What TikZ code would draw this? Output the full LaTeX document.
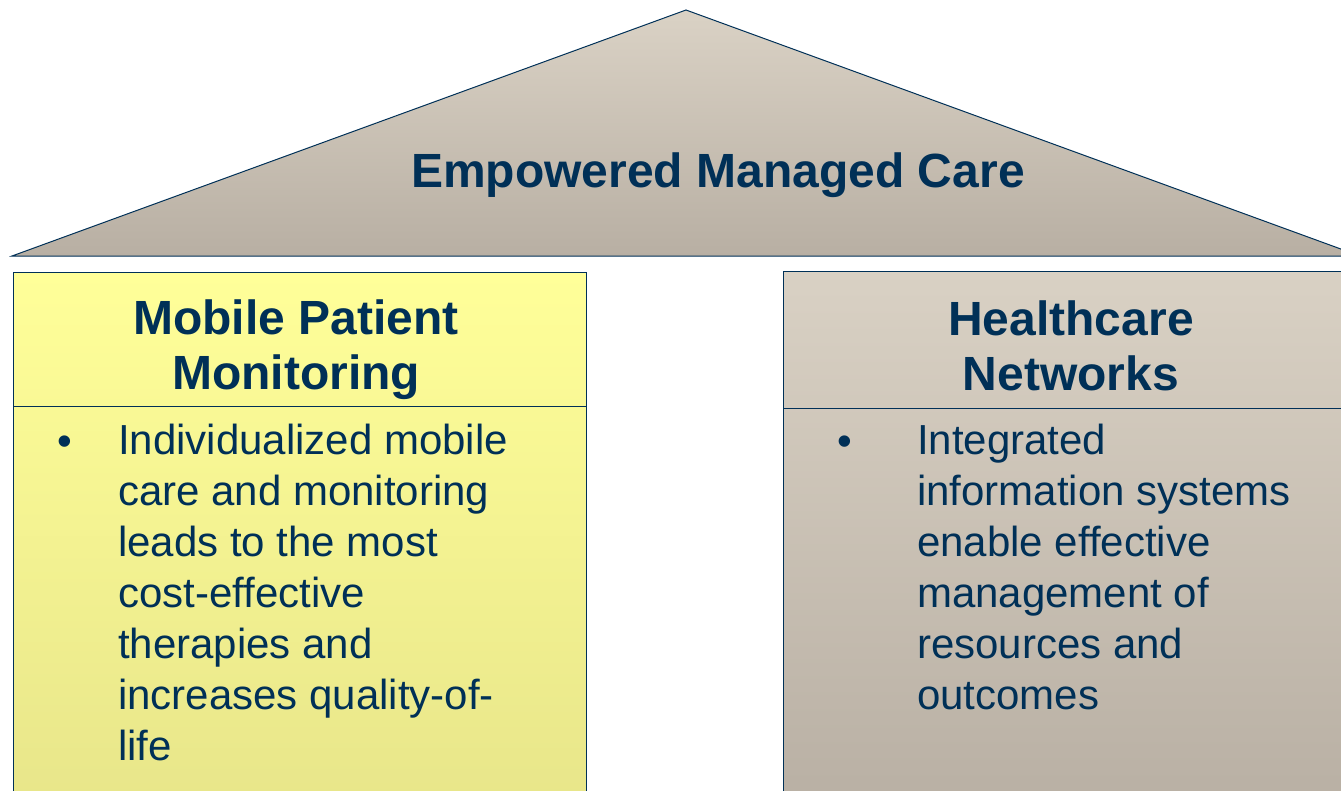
\documentclass[tikz,border=0pt]{standalone}
\usepackage{fontspec}
\setmainfont{Liberation Sans}
\usetikzlibrary{positioning}
\definecolor{navy}{RGB}{0,48,87}
\definecolor{roofTop}{RGB}{218,210,197}
\definecolor{roofBot}{RGB}{184,175,163}
\definecolor{yellowTop}{RGB}{255,255,153}
\definecolor{yellowBot}{RGB}{232,230,138}
\definecolor{greyTop}{RGB}{217,209,196}
\definecolor{greyBot}{RGB}{185,176,164}

\begin{document}
\begin{tikzpicture}[x=1pt,y=-1pt,
  box/.style={draw=navy,line width=1pt,inner sep=0pt,minimum height=528pt},
  head/.style={text=navy,align=center,font=\bfseries\fontsize{48}{55}\selectfont},
  body/.style={text=navy,align=left,inner sep=0pt,anchor=north west,font=\fontsize{42}{51}\selectfont},
  dot/.style={text=navy,inner sep=0pt,anchor=base,font=\fontsize{42}{51}\selectfont}]
                \useasboundingbox (0,0) rectangle (1341,790);
                \clip (0,0) rectangle (1341,790);
                \shadedraw[top color=roofTop,bottom color=roofBot,draw=navy,line width=1pt]
                  (12,256) -- (686,10) -- (1360,256) -- cycle;
                \node[text=navy,anchor=base,font=\bfseries\fontsize{48}{55}\selectfont](Title)at(718, 187){Empowered Managed Care};
                \node[box,minimum width=573pt,top color=yellowTop,bottom color=yellowBot](Mobile)at(299.5, 536){};
                \node[box,minimum width=577pt,top color=greyTop,bottom color=greyBot](Network)at(1071.5, 535){};
                \draw[navy,line width=1pt] (13,406) -- (586,406)
                  (783,408) -- (1360,408);
                \node[head](MobileHead)at(296, 350){Mobile Patient\\Monitoring};
                \node[head](NetworkHead)at(1071, 346){Healthcare\\Networks};
                \node[dot](MobileDot)at(65, 455){•};
                \node[body](MobileText)at(118, 424){Individualized mobile\\care and monitoring\\leads to the most\\cost-effective\\therapies and\\increases quality-of-\\life};
                \node[dot](NetworkDot)at(845, 455){•};
                \node[body](NetworkText)at(917, 424){Integrated\\information systems\\enable effective\\management of\\resources and\\outcomes};
            \end{tikzpicture}
\end{document}
